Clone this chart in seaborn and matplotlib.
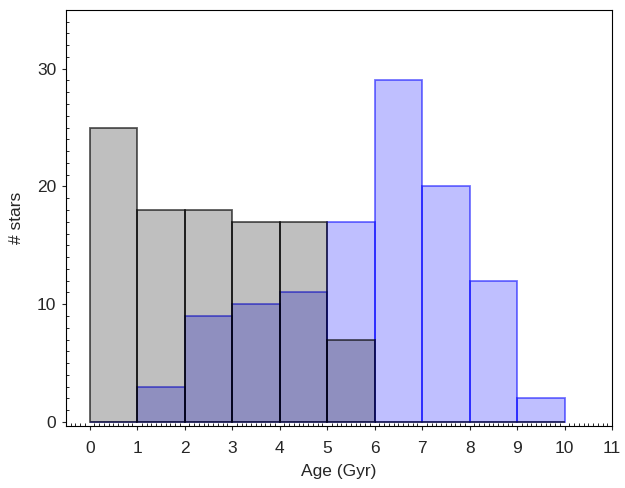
import numpy as np
import matplotlib
matplotlib.use('Agg')
import matplotlib.pyplot as plt
import seaborn as sns
from matplotlib.ticker import MultipleLocator

# bin edges (Gyr) and counts per bin
bin_edges = [0, 1, 2, 3, 4, 5, 6, 7, 8, 9, 10]
bin_mid = [0.5, 1.5, 2.5, 3.5, 4.5, 5.5, 6.5, 7.5, 8.5, 9.5]
gray_counts = [25, 18, 18, 17, 17, 7, 0, 0, 0, 0]
blue_counts = [0, 3, 9, 10, 11, 17, 29, 20, 12, 2]

sns.set_style('ticks')
plt.rcParams['font.family'] = ['Liberation Sans', 'DejaVu Sans']

fig = plt.figure(figsize=(6.25, 4.88), dpi=100)
ax = fig.add_axes([0.1056, 0.128, 0.8736, 0.852])

sns.histplot(x=bin_mid, weights=blue_counts, bins=bin_edges, ax=ax,
             facecolor=(0, 0, 1, 0.25), edgecolor=(0, 0, 1, 0.55), linewidth=1.3)
sns.histplot(x=bin_mid, weights=gray_counts, bins=bin_edges, ax=ax,
             facecolor=(0, 0, 0, 0.25), edgecolor=(0, 0, 0, 0.65), linewidth=1.3)

ax.set_xlim(-0.5, 11)
ax.set_ylim(-0.3, 35)
ax.xaxis.set_major_locator(MultipleLocator(1))
ax.xaxis.set_minor_locator(MultipleLocator(0.1))
ax.yaxis.set_major_locator(MultipleLocator(10))
ax.yaxis.set_minor_locator(MultipleLocator(1))
ax.tick_params(which='major', direction='out', length=3, width=0.8, labelsize=12.5, pad=4)
ax.tick_params(axis='x', which='major', pad=8)
ax.tick_params(which='minor', direction='in', length=2, width=0.7)
ax.tick_params(top=False, right=False, which='both')
for s in ax.spines.values():
    s.set_linewidth(0.8)
    s.set_color('black')

ax.set_xlabel('Age (Gyr)', fontsize=12.5, labelpad=6)
ax.set_ylabel('# stars', fontsize=12.5, labelpad=9)

fig.savefig('out.png', dpi=100)
